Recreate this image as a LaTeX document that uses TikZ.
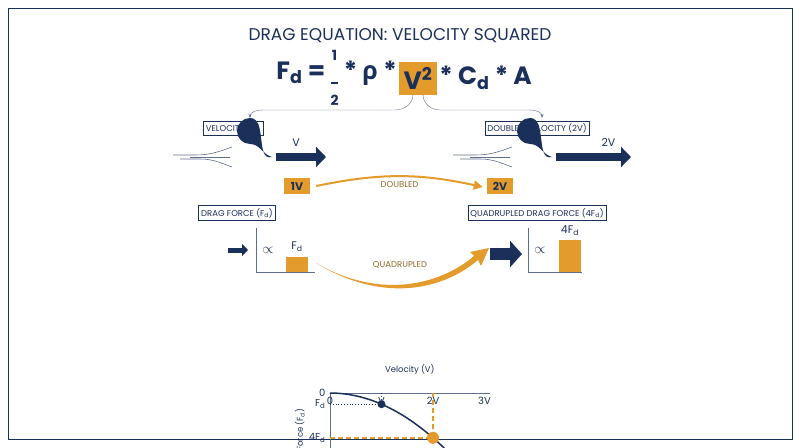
\documentclass[tikz,border=0pt]{standalone}
\usepackage{amsmath}
\usepackage{fontspec}
\setmainfont{Poppins}
\newfontfamily\greekfont{Open Sans}
\usetikzlibrary{arrows.meta,calc,positioning}
\definecolor{navy}{HTML}{1B2F5B}
\definecolor{gold}{HTML}{E39B2B}
\definecolor{goldtext}{HTML}{8B6A2A}
\tikzstyle{labelbox} = [draw=navy, fill=white, text=navy, inner sep=2.5pt, font=\fontsize{8.5}{9}\selectfont]
\tikzstyle{valbox} = [fill=gold, text=navy, minimum width=26pt, minimum height=16pt, inner sep=0pt, font=\fontsize{11}{12}\selectfont\bfseries]
\tikzstyle{navytext} = [text=navy, font=\fontsize{11}{12}\selectfont]
\tikzstyle{streamline} = [navy!70, line width=0.6pt]
\tikzset{fatarrow/.style={navy, line width=#1, -{Triangle[length=10pt,width=20pt]}}}
\tikzstyle{ticklab} = [text=navy, font=\fontsize{10}{11}\selectfont]
\newcommand{\dropbody}[1]{%
  \fill[navy] ($(#1)+(22,0)$) to[out=165,in=0] ($(#1)+(0,-13)$) arc(90:270:13) to[out=0,in=195] ($(#1)+(22,0)$);
  \draw[white, line width=0.8pt] ($(#1)+(-8,-4)$) arc(160:100:8);
  \draw[streamline] ($(#1)+(-77,-2)$) -- ($(#1)+(-55,-2)$) to[out=0,in=200] ($(#1)+(-18,-10)$);
  \draw[streamline] ($(#1)+(-70,2)$) -- ($(#1)+(-50,2)$) to[out=0,in=160] ($(#1)+(-18,10)$);
  \draw[streamline] ($(#1)+(-60,0)$) -- ($(#1)+(-20,0)$);}
\newcommand{\halfbold}{\raisebox{-0.35ex}{\begin{tabular}{@{}c@{}}\fontsize{14}{11}\selectfont 1\\[-3pt]\rule{7pt}{1.5pt}\\[-4pt]\fontsize{14}{11}\selectfont 2\end{tabular}}}
\begin{document}
\begin{tikzpicture}[x=1pt, y=-1pt]
\useasboundingbox (0,0) rectangle (800,447);
\draw[navy, line width=1pt] (8,8) rectangle (792,439);
% Title and equation
\node (title) [text=navy, font=\fontsize{17}{18}\selectfont] at (400,36) {DRAG EQUATION: VELOCITY SQUARED};
\node (vsq) [fill=gold, text=navy, minimum width=38pt, minimum height=33pt, inner sep=0pt, font=\fontsize{25}{26}\selectfont\bfseries] at (418,78) {V\textsuperscript{2}};
\node (lhs) [left=2pt of vsq, text=navy, font=\fontsize{25}{26}\selectfont\bfseries, inner sep=0pt] {F\textsubscript{d} = \halfbold{} * {\greekfont ρ} *};
\node (rhs) [right=2pt of vsq, text=navy, font=\fontsize{25}{26}\selectfont\bfseries, inner sep=0pt] {* C\textsubscript{d} * A};
% Velocity boxes
\node (vel) [labelbox] at (233,128) {VELOCITY (V)};
\node (dvel) [labelbox] at (537,128) {DOUBLED VELOCITY (2V)};
\coordinate (velTip) at (250,118);
\coordinate (dvelTip) at (542,118);
\draw[navy!70, -{Stealth[length=4pt]}] ($(vsq.south)+(-5,0)$) to[out=270,in=0] (395,110) -- (262,110) to[out=180,in=90] (velTip);
\draw[navy!70, -{Stealth[length=4pt]}] ($(vsq.south)+(5,0)$) to[out=270,in=180] (440,110) -- (530,110) to[out=0,in=90] (dvelTip);
% Drops
\coordinate (dropL) at (250,157);
\coordinate (dropR) at (530,157);
\dropbody{dropL}
\dropbody{dropR}
\draw[fatarrow=8pt] (276,157) -- (326,157) node [navytext, pos=0.4, above=3pt] {V};
\draw[fatarrow=8pt] (556,157) -- (631,157) node [navytext, pos=0.7, above=3pt] {2V};
\node (oneV) [valbox] at (297,186) {1V};
\node (twoV) [valbox] at (500,186) {2V};
\draw[gold, line width=2pt, -{Triangle[length=9pt,width=9pt]}] ($(oneV.east)+(6,0)$) to[bend left=12] node [below=1pt, text=goldtext, font=\fontsize{8.5}{9}\selectfont] {DOUBLED} ($(twoV.west)+(-4,1)$);
% Drag force
\node (drag) [labelbox] at (237,213) {DRAG FORCE (F\textsubscript{d})};
\node (qdrag) [labelbox] at (537,213) {QUADRUPLED DRAG FORCE (4F\textsubscript{d})};
\draw[navy, line width=5pt, -{Triangle[length=6pt,width=12pt]}] (228,250) -- (248,250);
\draw[navy!70] (256,228) -- (256,272) -- (315,272);
\node (propL) [navytext, font=\fontsize{14}{14}\selectfont] at (268,250) {$\propto$};
\fill[gold] (286,257) rectangle (308,272);
\node (fdL) [navytext] at (297,247) {F\textsubscript{d}};
\draw[navy, line width=12pt, -{Triangle[length=12pt,width=26pt]}] (490,254) -- (522,254);
\draw[navy!70] (528,228) -- (528,272) -- (582,272);
\node (propR) [navytext, font=\fontsize{14}{14}\selectfont] at (540,250) {$\propto$};
\fill[gold] (559,240) rectangle (581,272);
\node (fdR) [navytext] at (570,231) {4F\textsubscript{d}};
\fill[gold] (316,263) .. controls (380,300) and (440,285) .. (474,256) -- (470,252) -- (489,248) -- (481,266) -- (478,260) .. controls (440,292) and (380,302) .. (316,263) -- cycle;
\node (quad) [text=goldtext, font=\fontsize{8.5}{9}\selectfont] at (400,265) {QUADRUPLED};
% Graph
\begin{scope}[shift={(330,393)}, x=51.5pt, y=-11.2pt]
\draw[navy!70, line width=0.8pt] (0,10) -- (0,0) -- (3.1,0);
\draw[navy, line width=1.5pt] plot[domain=0:3.05, samples=40] (\x,{\x*\x});
\draw[navy, dotted, thick] (0,1) -| (1,0);
\draw[gold, line width=2pt, dash pattern=on 5pt off 3pt] (0,4) -| (2,0);
\fill[navy] (1,1) circle (4pt);
\fill[gold] (2,4) circle (6pt);
\foreach \v/\lab in {0/0,1/V,2/2V,3/3V}
  \node[ticklab, below=1pt] at (\v,0) {\lab};
\foreach \f/\lab in {0/0,1/F\textsubscript{d},4/4F\textsubscript{d},9/9F\textsubscript{d}}
  \node[ticklab, left=1pt] at (0,\f) {\lab};
\node (fdcurve) [ticklab, rotate=48] at (2.35,6.6) {F\textsubscript{d} $\propto$ V\textsuperscript{2}};
\node (ylab) [ticklab, rotate=90, font=\fontsize{8.5}{9}\selectfont] at (-0.58,4.3) {Drag Force (F\textsubscript{d})};
\node (xlab) [ticklab, font=\fontsize{8.5}{9}\selectfont] at (1.55,-2.1) {Velocity (V)};
\end{scope}
\end{tikzpicture}
\end{document}
